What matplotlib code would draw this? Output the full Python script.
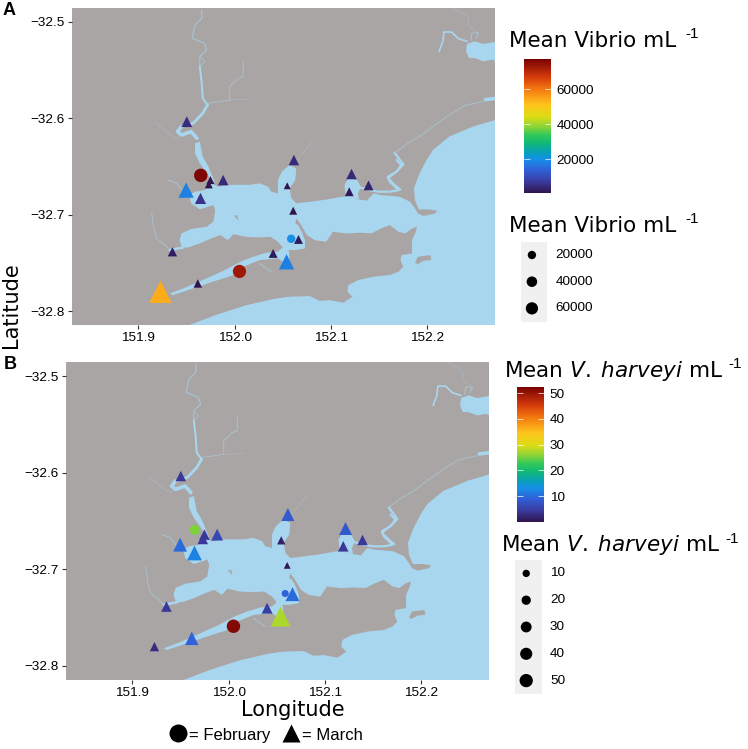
import numpy as np
import matplotlib
matplotlib.use("Agg")
import matplotlib.pyplot as plt
from matplotlib.cm import ScalarMappable
from matplotlib.colors import LinearSegmentedColormap, Normalize

plt.rcParams['font.family'] = ['Liberation Sans', 'DejaVu Sans']
plt.rcParams['mathtext.fontset'] = 'dejavusans'

W, H = 748, 749
LAND = '#a9a5a5'
WATER = '#a9d6ef'
THIN_WATER = '#a9c4d2'

# sampling sites
tri_lon = [151.9505, 152.0615, 152.1213, 152.1389, 152.1189, 152.0546, 152.0608, 152.0663, 152.0400,
           152.0539, 151.9232, 151.9619, 151.9356, 151.9647, 151.9498, 151.9882, 151.9750, 151.9733]
tri_lat = [-32.6035, -32.6433, -32.6578, -32.6696, -32.6762, -32.6700, -32.6959, -32.7257, -32.7402,
           -32.7489, -32.7800, -32.7714, -32.7385, -32.6831, -32.6745, -32.6641, -32.6641, -32.6686]
cir_lon = [151.9650, 152.0051, 152.0587]
cir_lat = [-32.6592, -32.7589, -32.7250]

# mean counts, same order as the sites
vibrio_tri = [5000, 4500, 4500, 3500, 2000, 300, 1000, 2000, 2000, 18000, 54000, 1500, 2500, 6000, 18000, 4500, 1000, 1000]
vibrio_cir = [76500, 73000, 20000]
harveyi_tri = [4, 8, 8, 4, 4, 1.5, 0.5, 10, 4.5, 27.5, 2.5, 9, 4, 12, 10, 6, 4, 4]
harveyi_cir = [25.5, 51.5, 9]

vibrio_ticks = [20000, 40000, 60000]
harveyi_ticks = [10, 20, 30, 40, 50]

# map outlines, lon/lat: sea and the harbour joined in one outline
sea_lon = [151.945, 151.952, 151.981, 152.012, 152.043, 152.057, 152.078, 152.088, 152.099, 152.113, 152.122, 152.117,
           152.118, 152.128, 152.144, 152.161, 152.170, 152.175, 152.172, 152.173, 152.184, 152.184, 152.188, 152.189,
           152.184, 152.177, 152.170, 152.161, 152.152, 152.142, 152.130, 152.116, 152.102, 152.095, 152.083, 152.075,
           152.069, 152.064, 152.063, 152.066, 152.070, 152.073, 152.073, 152.063, 152.056, 152.057, 152.052, 152.045,
           152.026, 152.009, 151.999, 151.974, 151.957, 151.936, 151.933, 151.947, 151.967, 151.990, 152.006, 152.019,
           152.033, 152.045, 152.050, 152.045, 152.037, 152.025, 152.011, 151.999, 151.993, 151.985, 151.976, 151.964,
           151.952, 151.947, 151.945, 151.943, 151.945, 151.955, 151.971, 151.978, 151.980, 151.978, 151.964, 151.955,
           151.953, 151.959, 151.969, 151.976, 151.983, 151.995, 152.016, 152.026, 152.035, 152.038, 152.045, 152.045,
           152.049, 152.057, 152.064, 152.063, 152.057, 152.059, 152.064, 152.078, 152.092, 152.102, 152.116, 152.128,
           152.137, 152.144, 152.151, 152.171, 152.182, 152.187, 152.190, 152.196, 152.208, 152.210, 152.201, 152.191,
           152.187, 152.186, 152.191, 152.199, 152.206, 152.223, 152.248, 152.280, 152.280]
sea_lat = [-32.818, -32.815, -32.804, -32.794, -32.787, -32.7852, -32.7845, -32.7894, -32.7887, -32.7914, -32.7852, -32.780,
           -32.7731, -32.7679, -32.7644, -32.7627, -32.7592, -32.7541, -32.7471, -32.742, -32.7402, -32.7264, -32.7177, -32.7125,
           -32.7142, -32.7194, -32.7177, -32.7108, -32.7142, -32.7194, -32.7187, -32.7194, -32.7177, -32.7281, -32.7264, -32.7212,
           -32.7108, -32.7039, -32.709, -32.7108, -32.7187, -32.7264, -32.735, -32.7367, -32.7367, -32.7454, -32.7503, -32.7454,
           -32.7471, -32.7541, -32.7627, -32.7707, -32.7765, -32.7835, -32.7817, -32.7765, -32.7679, -32.7575, -32.7489, -32.7437,
           -32.7395, -32.7385, -32.734, -32.7281, -32.7229, -32.7236, -32.7229, -32.7201, -32.7264, -32.7212, -32.7246, -32.7298,
           -32.734, -32.734, -32.7326, -32.7264, -32.7194, -32.7149, -32.7125, -32.7073, -32.6952, -32.690, -32.6945, -32.6883,
           -32.6796, -32.6762, -32.6745, -32.6675, -32.671, -32.669, -32.669, -32.6675, -32.671, -32.6762, -32.678, -32.664,
           -32.6554, -32.6485, -32.652, -32.664, -32.6727, -32.6831, -32.6883, -32.6866, -32.6848, -32.6831, -32.6807, -32.6841,
           -32.6855, -32.678, -32.6796, -32.6814, -32.6866, -32.6935, -32.6987, -32.7014, -32.6987, -32.6959, -32.6945, -32.6945,
           -32.6848, -32.6727, -32.6589, -32.6433, -32.6326, -32.6187, -32.6083, -32.599, -32.818]

estuary_lon = [151.959, 151.959, 151.964, 151.969, 151.976, 151.980, 151.973, 151.967, 151.964]
estuary_lat = [-32.6259, -32.6363, -32.6467, -32.6536, -32.664, -32.6675, -32.6502, -32.6398, -32.6242]
lagoon_lon = [152.241, 152.249, 152.258, 152.280, 152.280, 152.267, 152.258, 152.249, 152.243, 152.240]
lagoon_lat = [-32.5228, -32.5201, -32.5228, -32.519, -32.5443, -32.5391, -32.5408, -32.5374, -32.5374, -32.5305]
inlet_lon = [152.115, 152.114, 152.118, 152.127, 152.131, 152.128, 152.129]
inlet_lat = [-32.6807, -32.669, -32.6623, -32.664, -32.671, -32.678, -32.6841]
island_lon = [152.187, 152.190, 152.203, 152.204, 152.196, 152.190]
island_lat = [-32.7499, -32.7437, -32.742, -32.7471, -32.7478, -32.7513]
islet_lon = [151.999, 152.004, 152.003]
islet_lat = [-32.7004, -32.7063, -32.7010]

# creeks as (lons, lats, width in points)
creeks = [
    ([151.966, 151.966, 151.959, 151.956, 151.969, 151.971, 151.964, 151.964], [-32.4875, -32.4962, -32.5031, -32.5169, -32.5221, -32.529, -32.5359, -32.5463], 0.8),
    ([151.964, 151.969, 151.964], [-32.5359, -32.5411, -32.5463], 0.5),
    ([151.964, 151.966, 151.967, 151.972], [-32.5463, -32.5636, -32.5792, -32.5861], 1.4),
    ([151.972, 151.967, 151.957, 151.945], [-32.5861, -32.5948, -32.6052, -32.6086], 2.0),
    ([151.945, 151.941, 151.945, 151.955, 151.961], [-32.6086, -32.6138, -32.6173, -32.6138, -32.6207], 2.6),
    ([151.972, 151.995, 151.995, 152.004, 152.009, 152.009], [-32.5844, -32.581, -32.5671, -32.5584, -32.5567, -32.5411], 0.6),
    ([151.995, 152.016], [-32.581, -32.5803], 0.3),
    ([151.917, 151.931, 151.940, 151.945], [-32.6034, -32.6156, -32.6207, -32.6156], 0.3),
    ([151.914, 151.916, 151.919, 151.926, 151.933], [-32.697, -32.7125, -32.7246, -32.7298, -32.7367], 0.6),
    ([151.933, 151.947], [-32.7367, -32.734], 1.8),
    ([151.931, 151.940, 151.948, 151.954], [-32.664, -32.6675, -32.678, -32.6814], 0.7),
    ([152.026, 152.033, 152.038], [-32.7506, -32.7558, -32.7592], 0.7),
    ([152.062, 152.081], [-32.647, -32.624], 0.3),
    ([152.131, 152.140, 152.149, 152.161, 152.170, 152.161, 152.159, 152.168, 152.173, 152.168],
     [-32.672, -32.6745, -32.6762, -32.6762, -32.6745, -32.6658, -32.6606, -32.6554, -32.6485, -32.6433], 1.6),
    ([152.166, 152.170, 152.175, 152.168, 152.159], [-32.636, -32.6412, -32.648, -32.655, -32.662], 1.6),
    ([152.159, 152.166, 152.172], [-32.662, -32.669, -32.674], 1.4),
    ([152.280, 152.260], [-32.5782, -32.5806], 2.5),
    ([152.258, 152.239, 152.223, 152.206, 152.192, 152.180, 152.166], [-32.5824, -32.5865, -32.5962, -32.6083, -32.6187, -32.6256, -32.636], 0.6),
    ([152.212, 152.216, 152.217, 152.225, 152.232, 152.241], [-32.5305, -32.5201, -32.5104, -32.5104, -32.5173, -32.5201], 1.2),
    ([152.245, 152.246, 152.253, 152.250], [-32.519, -32.5114, -32.5114, -32.5173], 0.7),
    ([152.227, 152.242, 152.243, 152.253], [-32.4855, -32.494, -32.5045, -32.5114], 0.3),
]

cmap_colors = [(0.0, '#30154f'), (0.08, '#3a3a9c'), (0.17, '#3060d8'), (0.25, '#1590e8'), (0.295, '#0a9cc0'),
               (0.37, '#0fb878'), (0.43, '#30c85a'), (0.51, '#9ed630'), (0.57, '#dcdc14'), (0.66, '#ffc41c'),
               (0.775, '#f47a10'), (0.87, '#d43a0a'), (1.0, '#7a0403')]
cmap = LinearSegmentedColormap.from_list('vib', cmap_colors)


def axes_px(fig, left, top, right, bottom):
    return fig.add_axes([left / W, 1 - bottom / H, (right - left) / W, (bottom - top) / H])


def label_px(fig, x, y, s, **kw):
    kw.setdefault('va', 'baseline')
    return fig.text(x / W, 1 - y / H, s, **kw)


def dia_to_s(d):
    # pixels across to scatter area
    return (np.asarray(d) * 0.72) ** 2


def draw_map(ax):
    ax.set_facecolor(LAND)
    ax.fill(sea_lon, sea_lat, color=WATER, lw=0)
    ax.fill(estuary_lon, estuary_lat, color=WATER, lw=0)
    ax.fill(lagoon_lon, lagoon_lat, color=WATER, lw=0)
    ax.fill(inlet_lon, inlet_lat, color=WATER, lw=0)
    ax.fill(island_lon, island_lat, color=LAND, lw=0)
    ax.fill(islet_lon, islet_lat, color=LAND, lw=0)
    for lons, lats, w in creeks:
        col = THIN_WATER if w < 1 else WATER
        ax.plot(lons, lats, color=col, lw=w, solid_capstyle='round', solid_joinstyle='round')
    ax.set_xlim(151.8315, 152.27)
    ax.set_ylim(-32.8145, -32.4855)
    ax.set_xticks([151.9, 152.0, 152.1, 152.2])
    ax.set_xticklabels(['151.9', '152.0', '152.1', '152.2'])
    ax.set_yticks([-32.5, -32.6, -32.7, -32.8])
    ax.set_yticklabels(['\u221232.5', '\u221232.6', '\u221232.7', '\u221232.8'])
    ax.tick_params(length=3, width=0.8, color='#333333', labelsize=9.7, labelcolor='black', pad=2)
    for s in ax.spines.values():
        s.set_visible(False)


def draw_sites(ax, v_tri, v_cir, norm, size_fn):
    ax.scatter(tri_lon, tri_lat, c=v_tri, cmap=cmap, norm=norm, marker='^', s=dia_to_s(size_fn(v_tri) * 1.9), lw=0, zorder=3)
    ax.scatter(cir_lon, cir_lat, c=v_cir, cmap=cmap, norm=norm, marker='o', s=dia_to_s(size_fn(v_cir)), lw=0, zorder=4)


def colour_bar(fig, box, norm, ticks, pad):
    cax = axes_px(fig, *box)
    cb = fig.colorbar(ScalarMappable(norm=norm, cmap=cmap), cax=cax)
    cb.set_ticks(ticks)
    cb.outline.set_visible(False)
    cax.tick_params(left=True, right=True, direction='in', length=4, width=0.5, color='white',
                    labelsize=9.7, pad=pad)


def size_key(fig, box, ticks, size_fn, label_x):
    ax = axes_px(fig, *box)
    ax.set_facecolor('#f0f0f0')
    ax.set_xlim(0, 1)
    ax.set_ylim(len(ticks), 0)
    ax.set_xticks([])
    ax.set_yticks([])
    for s in ax.spines.values():
        s.set_visible(False)
    ypos = np.arange(len(ticks)) + 0.5
    ax.scatter([0.42] * len(ticks), ypos, s=dia_to_s(size_fn(np.array(ticks, dtype=float))), color='black', lw=0)
    for y, t in zip(ypos, ticks):
        ax.text((label_x - box[0]) / (box[2] - box[0]), y, str(t), va='center', ha='left', fontsize=9.7)


vib_norm = Normalize(950, 77100)
har_norm = Normalize(0, 52.3)


def vib_size(v):
    return 3 + 10.5 * np.sqrt(np.asarray(v, dtype=float) / 77100)


def har_size(v):
    return 2.5 + 11 * np.sqrt(np.asarray(v, dtype=float) / 52.3)


fig = plt.figure(figsize=(W / 100, H / 100), dpi=100)

axA = axes_px(fig, 72, 8, 495, 325)
draw_map(axA)
draw_sites(axA, vibrio_tri, vibrio_cir, vib_norm, vib_size)

axB = axes_px(fig, 66, 362, 489, 680)
draw_map(axB)
draw_sites(axB, harveyi_tri, harveyi_cir, har_norm, har_size)

colour_bar(fig, (524.3, 59.3, 551, 192.7), vib_norm, vibrio_ticks, 4)
colour_bar(fig, (517, 387.3, 544, 521.7), har_norm, harveyi_ticks, 4)
size_key(fig, (521, 241.7, 547, 321.7), vibrio_ticks, vib_size, 555.7)
size_key(fig, (515, 560, 541.7, 694), harveyi_ticks, har_size, 550)

# legend titles
title = dict(family='DejaVu Sans', fontsize=15.5)
sup = dict(fontsize=11)
label_px(fig, 509, 47, 'Mean Vibrio mL', **title)
label_px(fig, 685.7, 38, '-1', **sup)
label_px(fig, 509, 231.7, 'Mean Vibrio mL', **title)
label_px(fig, 685.7, 222.7, '-1', **sup)
label_px(fig, 504, 377, r'Mean $\mathit{V.\;harveyi}$ mL', **title)
label_px(fig, 728, 368, '-1', **sup)
label_px(fig, 501, 551, r'Mean $\mathit{V.\;harveyi}$ mL', **title)
label_px(fig, 725.7, 542.7, '-1', **sup)

# panel letters and axis names
label_px(fig, 3, 15, 'A', fontsize=13, fontweight='bold')
label_px(fig, 4, 369, 'B', fontsize=13, fontweight='bold')
label_px(fig, 11, 305, 'Latitude', family='DejaVu Sans', fontsize=15, rotation=90, ha='center', va='center')
label_px(fig, 293, 716, 'Longitude', family='DejaVu Sans', fontsize=15, ha='center')

# month key along the bottom
axKey = axes_px(fig, 0, 720, W, 749)
axKey.set_xlim(0, W)
axKey.set_ylim(29, 0)
axKey.axis('off')
axKey.scatter([178], [12.7], s=dia_to_s(18), marker='o', color='black', lw=0)
axKey.scatter([290.7], [12.5], s=dia_to_s(18), marker='^', color='black', lw=0)
label_px(fig, 189, 740, '= February', fontsize=12)
label_px(fig, 301.7, 740, '= March', fontsize=12)

fig.savefig('out.png', dpi=100)
